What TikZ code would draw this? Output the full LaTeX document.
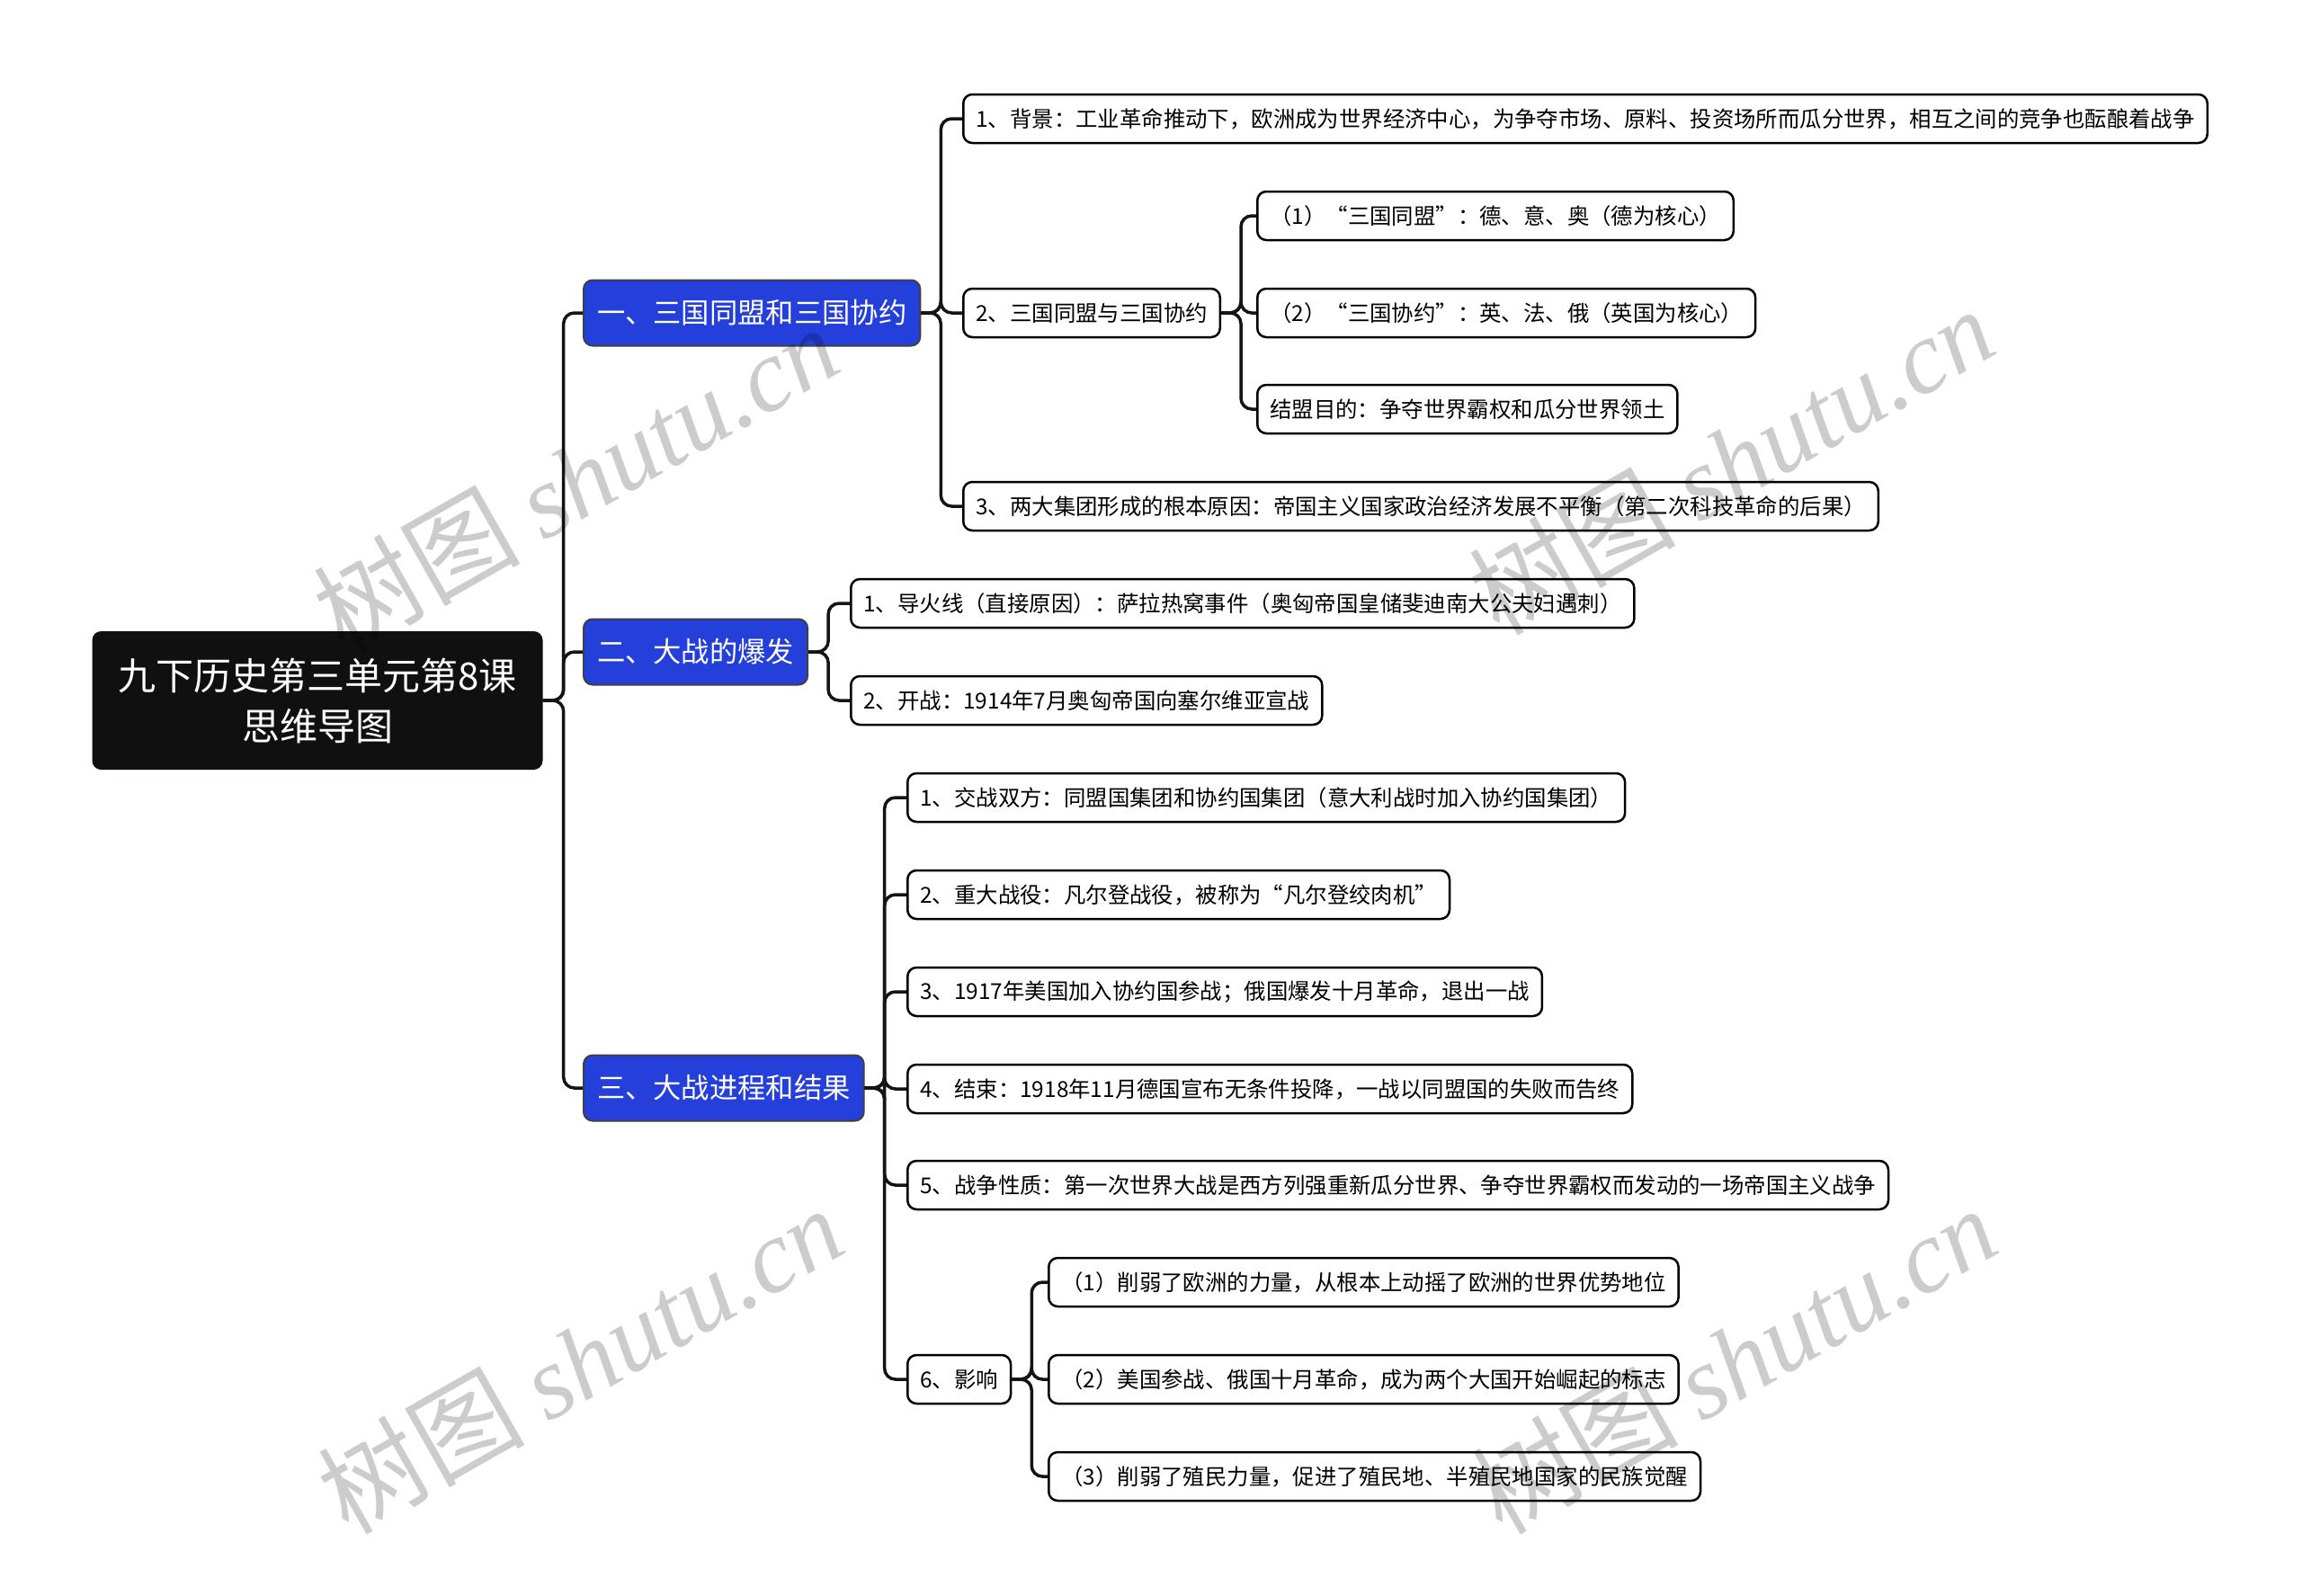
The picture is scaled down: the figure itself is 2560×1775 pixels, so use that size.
\documentclass[tikz,border=0pt]{standalone}
\usepackage{fontspec}
\setmainfont{Noto Sans CJK SC}
\newfontfamily\wmfont{Liberation Serif}
\newfontfamily\cjkf{Noto Sans CJK SC}
\definecolor{lonebl}{RGB}{37,64,218}
\definecolor{rootfill}{RGB}{16,16,16}
\tikzset{
  leaf/.style={anchor=west, draw=black, line width=2.5pt, fill=white, rounded corners=10pt,
    inner xsep=14pt, inner ysep=0pt, minimum height=54pt, font=\fontsize{24.4}{28}\selectfont},
  lone/.style={anchor=west, draw=black!75, line width=2pt, fill=lonebl, text=white, rounded corners=10pt,
    inner xsep=15pt, inner ysep=0pt, minimum height=73pt, font=\fontsize{31.3}{36}\selectfont},
  rootbox/.style={fill=rootfill, text=white, rounded corners=10pt, minimum width=501pt,
    minimum height=154pt, align=center, inner sep=0pt, font=\fontsize{42}{56}\selectfont},
  conn/.style={draw=black!92, line width=3.5pt, rounded corners=12pt},
  wm/.style={rotate=29.6, text=black, opacity=0.2, inner sep=0pt}
}
\begin{document}
\begin{tikzpicture}[x=1pt,y=-1pt]
\useasboundingbox (0,0) rectangle (2560,1775);
\fill[white] (0,0) rectangle (2560,1775);

% root
\node[rootbox] (root) at (353,779) {九下历史第三单元第8课\\思维导图};

% level 1
\node[lone] (A) at (648,348) {一、三国同盟和三国协约};
\node[lone] (B) at (648,725) {二、大战的爆发};
\node[lone] (C) at (648,1210) {三、大战进程和结果};

% under A
\node[leaf] (A1) at (1070,132) {1、背景：工业革命推动下，欧洲成为世界经济中心，为争夺市场、原料、投资场所而瓜分世界，相互之间的竞争也酝酿着战争};
\node[leaf] (A2) at (1070,348) {2、三国同盟与三国协约};
\node[leaf] (A3) at (1070,563) {3、两大集团形成的根本原因：帝国主义国家政治经济发展不平衡（第二次科技革命的后果）};
\node[leaf] (A2a) at (1397,240) {（1）“三国同盟”：德、意、奥（德为核心）};
\node[leaf] (A2b) at (1397,348) {（2）“三国协约”：英、法、俄（英国为核心）};
\node[leaf] (A2c) at (1397,455) {结盟目的：争夺世界霸权和瓜分世界领土};

% under B
\node[leaf] (B1) at (945,671) {1、导火线（直接原因）：萨拉热窝事件（奥匈帝国皇储斐迪南大公夫妇遇刺）};
\node[leaf] (B2) at (945,779) {2、开战：1914年7月奥匈帝国向塞尔维亚宣战};

% under C
\node[leaf] (C1) at (1008,887) {1、交战双方：同盟国集团和协约国集团（意大利战时加入协约国集团）};
\node[leaf] (C2) at (1008,995) {2、重大战役：凡尔登战役，被称为“凡尔登绞肉机”};
\node[leaf] (C3) at (1008,1103) {3、1917年美国加入协约国参战；俄国爆发十月革命，退出一战};
\node[leaf] (C4) at (1008,1211) {4、结束：1918年11月德国宣布无条件投降，一战以同盟国的失败而告终};
\node[leaf] (C5) at (1008,1318) {5、战争性质：第一次世界大战是西方列强重新瓜分世界、争夺世界霸权而发动的一场帝国主义战争};
\node[leaf] (C6) at (1008,1534) {6、影响};
\node[leaf] (C6a) at (1165,1426) {（1）削弱了欧洲的力量，从根本上动摇了欧洲的世界优势地位};
\node[leaf] (C6b) at (1165,1534) {（2）美国参战、俄国十月革命，成为两个大国开始崛起的标志};
\node[leaf] (C6c) at (1165,1642) {（3）削弱了殖民力量，促进了殖民地、半殖民地国家的民族觉醒};

% connectors
\foreach \c in {A,B,C} \draw[conn] (root.east) -- ++(23,0) |- (\c.west);
\foreach \c in {A1,A2,A3} \draw[conn] (A.east) -- ++(22,0) |- (\c.west);
\foreach \c in {A2a,A2b,A2c} \draw[conn] (A2.east) -- ++(22,0) |- (\c.west);
\foreach \c in {B1,B2} \draw[conn] (B.east) -- ++(22,0) |- (\c.west);
\foreach \c in {C1,C2,C3,C4,C5,C6} \draw[conn] (C.east) -- ++(22,0) |- (\c.west);
\foreach \c in {C6a,C6b,C6c} \draw[conn] (C6.east) -- ++(22,0) |- (\c.west);

% watermarks
\foreach \p [count=\i] in {(640,532),(1925,512),(645,1512),(1928,1512)}
  \node[wm] (wm\i) at \p {\fontsize{115}{125}\selectfont{\cjkf 树图} {\wmfont\itshape shutu.cn}};
\end{tikzpicture}
\end{document}
